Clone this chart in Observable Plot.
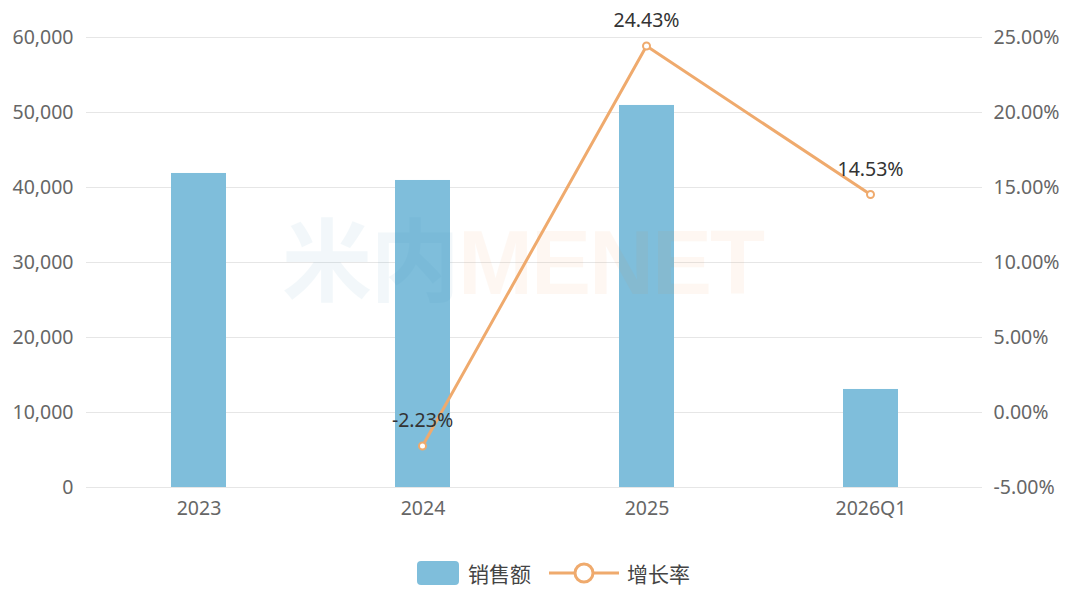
<!DOCTYPE html>
<html>
<head>
<meta charset="utf-8">
<script src="https://cdn.jsdelivr.net/npm/d3@7"></script>
<script src="https://cdn.jsdelivr.net/npm/@observablehq/plot@0.6"></script>
<style>
  body { margin: 0; background: #fff; font-family: "Noto Sans", "Noto Sans CJK SC", sans-serif; }
  #wrap { position: relative; width: 1080px; height: 540px; }
  #wrap svg { position: absolute; left: 0; top: 0; }
  #mark { position: absolute; left: 282px; top: 190px; font: bold 90px "Liberation Sans", "Noto Sans CJK SC", sans-serif; letter-spacing: -2px; pointer-events: none; white-space: nowrap; }
  #legend { display: flex; justify-content: center; align-items: center; gap: 14px; height: 52px; padding-top: 7px; padding-left: 26px; font-size: 21px; color: #444; font-family: "Noto Sans CJK SC", sans-serif; }
  #legend .item { display: flex; align-items: center; gap: 8px; }
</style>
</head>
<body>
<div id="wrap"><div id="mark"><span style="color:#2f8bb8;opacity:0.06">米内</span><span style="color:#f07a20;opacity:0.05">MENET</span></div></div>
<div id="legend"></div>
<script>
const periods = ["2023", "2024", "2025", "2026Q1"];
const sales = [41870, 40936, 50937, 13070];
const growth = [null, -2.23, 24.43, 14.53];
const salesTicks = [0, 10000, 20000, 30000, 40000, 50000, 60000];
const growthTicks = [-5, 0, 5, 10, 15, 20, 25];

const barColor = "#7fbedb";
const lineColor = "#efaa6d";

const salesData = periods.map((p, i) => ({period: p, value: sales[i]}));
const growthData = periods.map((p, i) => ({period: p, rate: growth[i]})).filter(d => d.rate != null);

const common = {
  width: 1080,
  height: 540,
  marginTop: 37,
  marginBottom: 53,
  marginLeft: 86,
  marginRight: 98,
  style: {fontFamily: "'Noto Sans', 'Noto Sans CJK SC', sans-serif", fontSize: "19.5px", color: "#666", background: "transparent"},
  x: {domain: periods, paddingInner: 0.755, paddingOuter: 0.3775}
};

const bars = Plot.plot({
  ...common,
  y: {domain: [0, 60000]},
  marks: [
    Plot.gridY(salesTicks, {stroke: "#e6e6e6", strokeOpacity: 1}),
    Plot.barY(salesData, {x: "period", y: "value", fill: barColor}),
    Plot.axisY(salesTicks, {tickSize: 0, tickPadding: 13, tickFormat: d3.format(","), label: null, fontSize: 19.5}),
    Plot.axisX({tickSize: 0, tickPadding: 14, label: null, fontSize: 19.5})
  ]
});

const line = Plot.plot({
  ...common,
  y: {domain: [-5, 25]},
  marks: [
    Plot.axisY(growthTicks, {anchor: "right", tickSize: 0, tickPadding: 11, tickFormat: d => d.toFixed(2) + "%", label: null, fontSize: 19.5}),
    Plot.axisX({ticks: [], label: null}),
    Plot.line(growthData, {x: "period", y: "rate", stroke: lineColor, strokeWidth: 3}),
    Plot.dot(growthData, {x: "period", y: "rate", r: 3.5, fill: "#fff", stroke: lineColor, strokeWidth: 2}),
    Plot.text(growthData, {x: "period", y: "rate", text: d => d.rate.toFixed(2) + "%", dy: -25, fill: "#333", fontSize: 19.5})
  ]
});

const wrap = document.getElementById("wrap");
wrap.insertBefore(bars, wrap.firstChild);
wrap.appendChild(line);

document.getElementById("legend").innerHTML = `
  <div class="item"><svg width="44" height="26"><rect x="1" y="1" width="42" height="24" rx="4" fill="${barColor}"/></svg><span>销售额</span></div>
  <div class="item" style="margin-left:4px"><svg width="70" height="26"><line x1="0" y1="13" x2="70" y2="13" stroke="${lineColor}" stroke-width="3"/><circle cx="35" cy="13" r="9" fill="#fff" stroke="${lineColor}" stroke-width="3"/></svg><span>增长率</span></div>`;
</script>
</body>
</html>
